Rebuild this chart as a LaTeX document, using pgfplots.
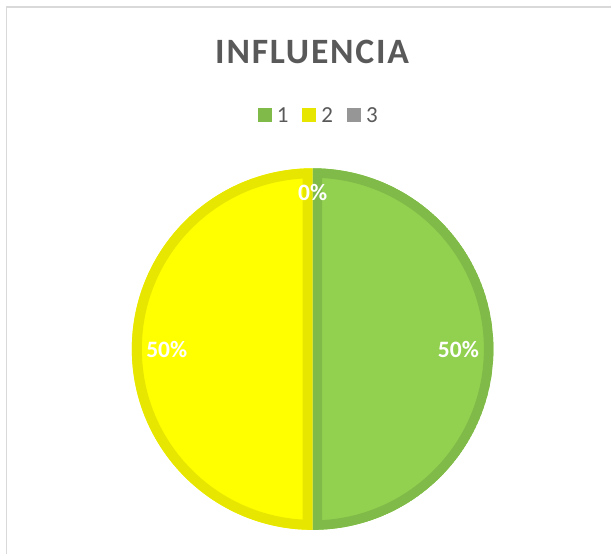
\documentclass[border=0pt]{standalone}
\usepackage{fontspec}
\setmainfont{Carlito}
\usepackage{pgfplots}
\usepackage{pgfplotstable}
\pgfplotsset{compat=1.18}

\definecolor{txtgray}{HTML}{595959}
\definecolor{fillA}{HTML}{92D050}
\definecolor{edgeA}{HTML}{80BA48}
\definecolor{fillB}{HTML}{FFFF00}
\definecolor{edgeB}{HTML}{E6E600}
\definecolor{fillC}{HTML}{A5A5A5}
\definecolor{edgeC}{HTML}{969696}
\definecolor{frame}{HTML}{D9D9D9}

\pgfplotstableread{
slice value
1 50
2 50
3 0
}\piedata

\newcommand\slicepath[2]{(axis cs:313,205.5) -- ++(#1:181bp) arc[start angle=#1, end angle=#2, radius=181bp] -- cycle}

\begin{document}
\begin{tikzpicture}
\pgfplotstablegetelem{0}{value}\of\piedata \let\va\pgfplotsretval
\pgfplotstablegetelem{1}{value}\of\piedata \let\vb\pgfplotsretval
\pgfplotstablegetelem{2}{value}\of\piedata \let\vc\pgfplotsretval
\pgfmathsetmacro\total{\va+\vb+\vc}
\pgfmathsetmacro\aA{90}
\pgfmathsetmacro\aB{\aA-\va/\total*360}
\pgfmathsetmacro\aC{\aB-\vb/\total*360}
\pgfmathsetmacro\aD{\aC-\vc/\total*360}
\pgfmathsetmacro\mA{(\aA+\aB)/2}
\pgfmathsetmacro\mB{(\aB+\aC)/2}
\pgfmathsetmacro\mC{(\aC+\aD)/2}
\begin{axis}[
  scale only axis, width=612bp, height=555bp,
  xmin=0, xmax=612, ymin=0, ymax=555,
  hide axis, clip=false,
  legend image code/.code={\fill[#1] (0bp,-7bp) rectangle (14bp,7bp);},
  legend columns=3,
  legend style={draw=none, fill=none, inner sep=0pt,
    at={(axis cs:258,439.5)}, anchor=west,
    nodes={inner sep=0pt, text depth=0pt},
    font=\fontsize{23bp}{23bp}\selectfont, text=txtgray,
    column sep=5bp,
    /tikz/every even column/.append style={column sep=14bp}},
]
\path (axis cs:0,0) rectangle (axis cs:612,555);
\draw[frame, line width=1.5bp] (axis cs:6.5,0) -- (axis cs:6.5,548) -- (axis cs:612,548);

\addlegendimage{fill=edgeA, draw=none}
\addlegendentry{1}
\addlegendimage{fill=edgeB, draw=none}
\addlegendentry{2}
\addlegendimage{fill=edgeC, draw=none}
\addlegendentry{3}

% slice 1
\begin{scope}
\clip \slicepath{\aA}{\aB};
\fill[fillA] \slicepath{\aA}{\aB};
\draw[edgeA, line width=19bp] \slicepath{\aA}{\aB};
\end{scope}
% slice 2
\begin{scope}
\clip \slicepath{\aB}{\aC};
\fill[fillB] \slicepath{\aB}{\aC};
\draw[edgeB, line width=20bp] \slicepath{\aB}{\aC};
\end{scope}

\path (axis cs:313,205.5) ++(\mA:146bp) node[text=white, font=\bfseries\fontsize{23.5bp}{23.5bp}\selectfont] {\va\%};
\path (axis cs:313,205.5) ++(\mB:146bp) node[text=white, font=\bfseries\fontsize{23.5bp}{23.5bp}\selectfont] {\vb\%};
\path (axis cs:313,205.5) ++(\mC:157bp) node[text=white, font=\bfseries\fontsize{23.5bp}{23.5bp}\selectfont] {\vc\%};

\node[text=txtgray, font=\bfseries\fontsize{35.7bp}{36bp}\selectfont\addfontfeature{LetterSpace=5}] at (axis cs:312.5,503) {INFLUENCIA};
\end{axis}
\end{tikzpicture}
\end{document}
